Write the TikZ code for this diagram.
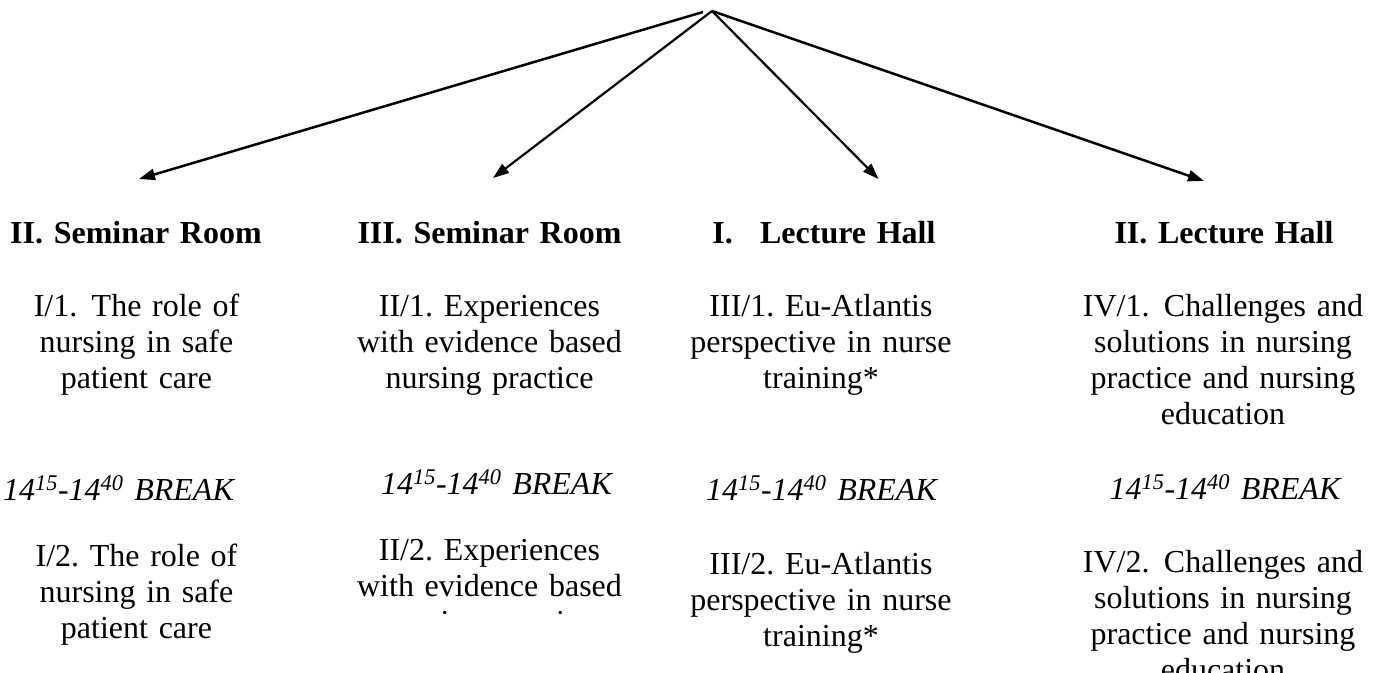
\documentclass[tikz,border=0pt]{standalone}
\usepackage{fontspec}
\setmainfont{Liberation Serif}
\usetikzlibrary{arrows.meta}
\frenchspacing
\begin{document}
\begin{tikzpicture}[x=1pt,y=-1pt,
  txt/.style={anchor=base, inner sep=0pt, text width=340pt, align=center,
              font=\fontsize{32}{36}\selectfont\frenchspacing},
  head/.style={txt, font=\fontsize{32}{36}\selectfont\bfseries\frenchspacing},
  brk/.style={txt, font=\fontsize{32}{36}\selectfont\itshape\frenchspacing},
  arr/.style={-{Triangle[length=16pt,width=11pt]}, line width=#1},
  arr/.default=2.3pt]
\clip (0,0) rectangle (1380,672);
\fill[white] (0,0) rectangle (1380,672);

% apex and arrow tips
\coordinate (apex) at (712,11);
\coordinate (apexl) at (703,12);
\coordinate (t1) at (139,179);
\coordinate (t2) at (493,178);
\coordinate (t3) at (878.5,179);
\coordinate (t4) at (1204,181);

\draw[arr=2.5pt] (apexl) -- (t1);
\draw[arr=2.2pt] (apex) -- (t2);
\draw[arr=2.2pt] (apex) -- (t3);
\draw[arr=2.5pt] (apex) -- (t4);

% column 1
\node[head] (h1) at (136,243) {II. Seminar Room};
\node[txt] (a1) at (136.5,316) {I/1.\hspace{0.45em}The role of\\nursing in safe\\patient care};
\node[brk] (b1) at (118.5,500) {14\textsuperscript{15}-14\textsuperscript{40} BREAK};
\node[txt] (c1) at (136.5,566) {I/2. The role of\\nursing in safe\\patient care};

% column 2
\node[head] (h2) at (489.5,243) {III. Seminar Room};
\node[txt] (a2) at (489.5,316) {II/1. Experiences\\with evidence based\\nursing practice};
\node[brk] (b2) at (496.5,494) {14\textsuperscript{15}-14\textsuperscript{40} BREAK};
\begin{scope}
\clip (320,520) rectangle (660,613);
\node[txt] (c2) at (489.5,560) {II/2. Experiences\\with evidence based\\nursing practice};
\end{scope}

% column 3
\node[head] (h3) at (824,243) {I.\hspace{0.85em}Lecture Hall};
\node[txt] (a3) at (821,316) {III/1. Eu-Atlantis\\perspective in nurse\\training*};
\node[brk] (b3) at (821.5,500) {14\textsuperscript{15}-14\textsuperscript{40} BREAK};
\node[txt] (c3) at (821,574) {III/2. Eu-Atlantis\\perspective in nurse\\training*};

% column 4
\node[head] (h4) at (1224,243) {II. Lecture Hall};
\node[txt] (a4) at (1223,316) {IV/1.\hspace{0.45em}Challenges and\\solutions in nursing\\practice and nursing\\education};
\node[brk] (b4) at (1225,499) {14\textsuperscript{15}-14\textsuperscript{40} BREAK};
\node[txt] (c4) at (1223,572) {IV/2.\hspace{0.45em}Challenges and\\solutions in nursing\\practice and nursing\\education};
\end{tikzpicture}
\end{document}
